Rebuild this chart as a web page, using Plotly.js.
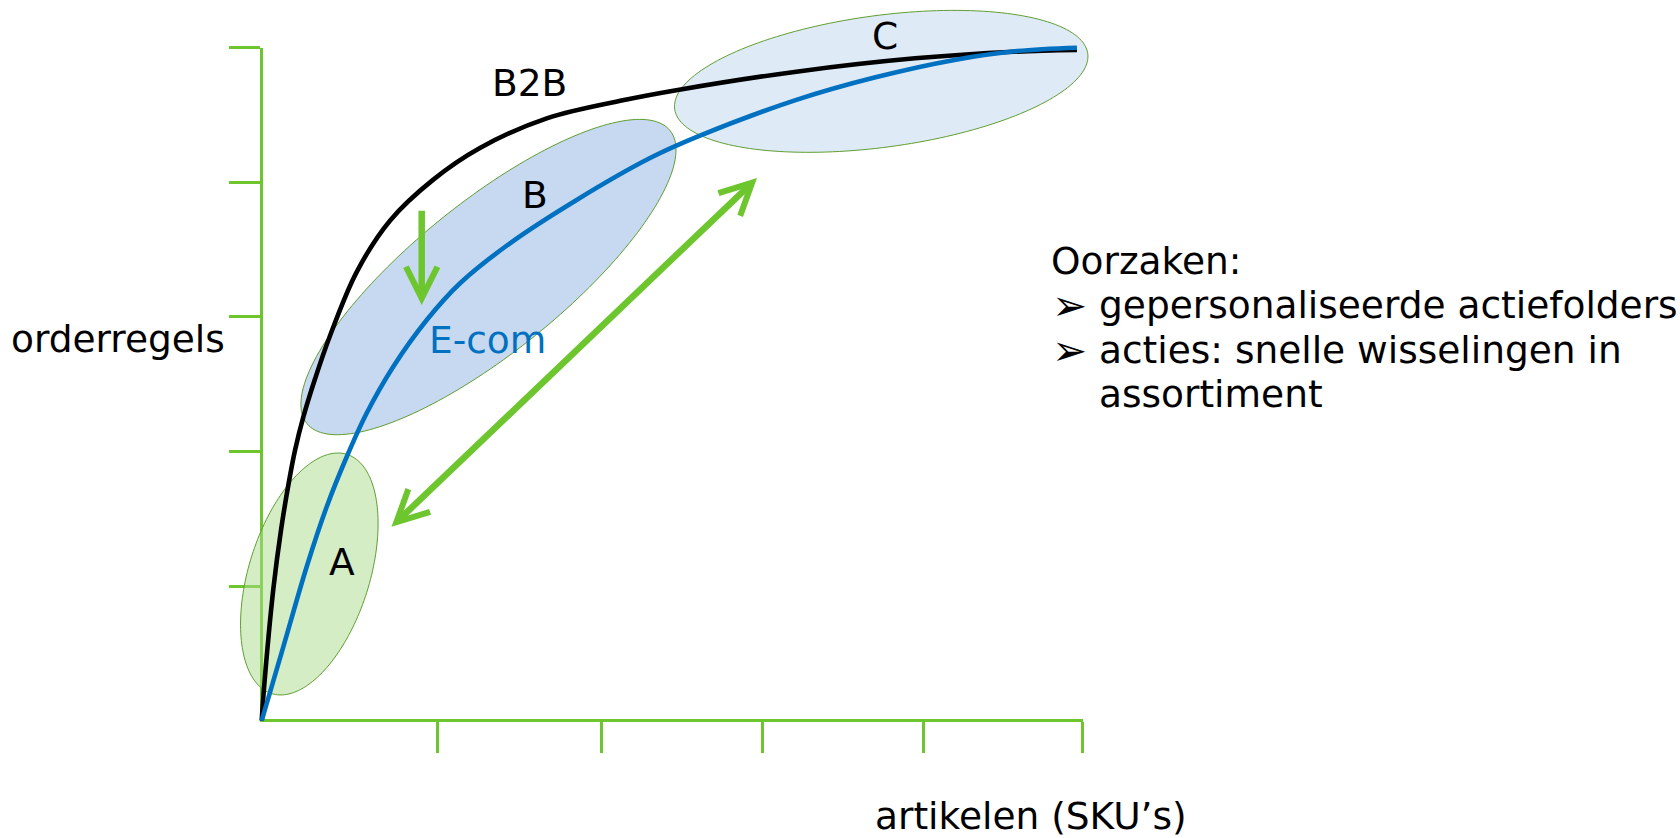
<!DOCTYPE html>
<html>
<head>
<meta charset="utf-8">
<script src="https://cdn.plot.ly/plotly-3.0.1.min.js"></script>
<style>
  html, body { margin: 0; padding: 0; background: #ffffff; }
  #chart { width: 1680px; height: 838px; }
</style>
</head>
<body>
<div id="chart"></div>
<script>
// ---------------- data (axis units 0..5) ----------------
const seriesNames = ['B2B', 'E-com'];
const b2bX  = [0, 0.014, 0.071, 0.118, 0.168, 0.203, 0.252, 0.325, 0.416, 0.579, 0.781, 1.045, 1.329, 1.736, 2.223, 2.534, 3.256, 3.979, 4.580, 4.965];
const b2bY  = [0, 0.240, 0.980, 1.420, 1.790, 2.010, 2.250, 2.540, 2.860, 3.335, 3.715, 4.020, 4.255, 4.475, 4.615, 4.686, 4.822, 4.921, 4.970, 4.983];
const ecomX = [0, 0.132, 0.274, 0.396, 0.518, 0.639, 0.801, 1.005, 1.208, 1.512, 1.918, 2.365, 2.654, 3.256, 3.738, 4.219, 4.600, 4.965];
const ecomY = [0, 0.550, 1.144, 1.590, 1.961, 2.284, 2.630, 2.977, 3.250, 3.547, 3.869, 4.180, 4.339, 4.612, 4.780, 4.909, 4.975, 5.000];
const xTickVals = [1.07, 2.07, 3.05, 4.03, 5];
const yTickVals = [1, 2, 3, 4, 5];
const regionLabels = ['A', 'B', 'C'];
const xAxisTitle = 'artikelen (SKU\u2019s)';
const yAxisTitle = 'orderregels';
const noteTitle = 'Oorzaken:';
const noteBullets = ['gepersonaliseerde actiefolders', 'acties: snelle wisselingen in'];
const noteContinuation = 'assortiment';

// ---------------- layout geometry ----------------
const W = 1680, H = 838;
const GREEN = 'rgb(110,198,46)';
const OUTLINE = 'rgb(96,158,50)';
const BLUE = '#0070C0';
const FONT = 'DejaVu Sans';
const FS = 37.5;
// pixel frame of the drawn axes (origin and the value 5 on each axis)
const FRAME = { x0: 261.7, x5: 1082.7, y0: 720.7, y5: 47.7, lw: 3 };
const pxPerX = (FRAME.x5 - FRAME.x0) / 5;
const pxPerY = (FRAME.y0 - FRAME.y5) / 5;
const toDataX = px => (px - FRAME.x0) / pxPerX;
const toDataY = py => (FRAME.y0 - py) / pxPerY;

// region ellipses: centre in axis units, semi-axes in px, tilt in degrees
const regionShapes = [
  { cx: 0.290, cy: 1.090, a: 125.4, b: 60.3, deg: 72.5, fill: 'rgba(169,219,139,0.5)' },
  { cx: 1.381, cy: 3.296, a: 233.3, b: 74.9, deg: 38.9, fill: 'rgba(141,179,225,0.5)' },
  { cx: 3.773, cy: 4.750, a: 208.4, b: 65.9, deg: 7.66, fill: 'rgba(191,213,239,0.5)' }
];
function ellipsePath(e) {
  const th = e.deg * Math.PI / 180;
  let s = '';
  const n = 180;
  for (let i = 0; i <= n; i++) {
    const t = 2 * Math.PI * i / n;
    const dx = e.a * Math.cos(t) * Math.cos(th) - e.b * Math.sin(t) * Math.sin(th);
    const dy = e.a * Math.cos(t) * Math.sin(th) + e.b * Math.sin(t) * Math.cos(th);
    s += (i ? 'L' : 'M') + (e.cx + dx / pxPerX).toFixed(5) + ',' + (e.cy + dy / pxPerY).toFixed(5);
  }
  return s + 'Z';
}

// ---------------- traces ----------------
const traces = [
  // keeps the visible axis frame alive
  { type: 'scatter', x: [], y: [], xaxis: 'x', yaxis: 'y', hoverinfo: 'skip', showlegend: false },
  { type: 'scatter', mode: 'lines', name: seriesNames[0], x: b2bX, y: b2bY, xaxis: 'x2', yaxis: 'y2',
    line: { color: '#000000', width: 4.6, shape: 'spline', smoothing: 1 }, hoverinfo: 'skip', showlegend: false },
  { type: 'scatter', mode: 'lines', name: seriesNames[1], x: ecomX, y: ecomY, xaxis: 'x2', yaxis: 'y2',
    line: { color: BLUE, width: 4.6, shape: 'spline', smoothing: 1 }, hoverinfo: 'skip', showlegend: false }
];

// ---------------- annotations ----------------
function pxText(text, px, py, xanchor, size, color) {
  return { text: text, xref: 'paper', yref: 'paper', x: px / W, y: 1 - py / H,
           xanchor: xanchor, yanchor: 'middle', showarrow: false,
           font: { family: FONT, size: size, color: color || '#000000' } };
}
function arrow(tip, tail, both) {
  return { xref: 'x2', yref: 'y2', axref: 'x2', ayref: 'y2',
           x: toDataX(tip[0]), y: toDataY(tip[1]), ax: toDataX(tail[0]), ay: toDataY(tail[1]),
           text: '', showarrow: true, arrowhead: 5, arrowsize: 0.95, arrowwidth: 6.5, arrowcolor: GREEN,
           arrowside: both ? 'end+start' : 'end', startarrowhead: 5, startarrowsize: 0.95 };
}

const annotations = [
  pxText(seriesNames[0], 529, 82.5, 'center', FS),
  pxText(seriesNames[1], 487.5, 339.5, 'center', FS, BLUE),
  pxText(regionLabels[0], 342, 562, 'center', FS),
  pxText(regionLabels[1], 535, 195, 'center', FS),
  pxText(regionLabels[2], 885, 36, 'center', FS),
  pxText(yAxisTitle, 118, 339, 'center', FS),
  pxText(xAxisTitle, 1031, 816, 'center', FS),
  pxText(noteTitle, 1049, 261, 'left', FS),
  pxText('\u27A2', 1050, 306, 'left', 42),
  pxText(noteBullets[0], 1097, 305, 'left', FS),
  pxText('\u27A2', 1050, 350, 'left', 42),
  pxText(noteBullets[1], 1097, 349.5, 'left', FS),
  pxText(noteContinuation, 1097, 393.5, 'left', FS),
  arrow([421.7, 305], [421.7, 209.3], false),
  arrow([757, 178], [390, 528.3], true)
];

// ---------------- layout ----------------
const plotLeft = FRAME.x0 + FRAME.lw / 2;
const plotBottom = FRAME.y0 - FRAME.lw / 2;
const axisCommon = {
  showline: true, linecolor: GREEN, linewidth: FRAME.lw,
  ticks: 'outside', ticklen: 31, tickwidth: 3, tickcolor: GREEN,
  tickmode: 'array', showticklabels: false, showgrid: false, zeroline: false, fixedrange: true
};
const layout = {
  width: W, height: H, autosize: false,
  margin: { l: 0, r: 0, t: 0, b: 0, pad: 0 },
  paper_bgcolor: '#ffffff', plot_bgcolor: 'rgba(0,0,0,0)',
  showlegend: false, hovermode: false,
  xaxis: Object.assign({}, axisCommon, {
    anchor: 'y', domain: [plotLeft / W, FRAME.x5 / W],
    range: [toDataX(plotLeft), 5], tickvals: xTickVals
  }),
  yaxis: Object.assign({}, axisCommon, {
    anchor: 'x', domain: [1 - plotBottom / H, 1 - FRAME.y5 / H],
    range: [toDataY(plotBottom), 5], tickvals: yTickVals
  }),
  xaxis2: { anchor: 'y2', domain: [0, 1], range: [toDataX(0), toDataX(W)], visible: false, fixedrange: true },
  yaxis2: { anchor: 'x2', domain: [0, 1], range: [toDataY(H), toDataY(0)], visible: false, fixedrange: true },
  shapes: regionShapes.map(e => ({
    type: 'path', xref: 'x2', yref: 'y2', layer: 'below', path: ellipsePath(e),
    fillcolor: e.fill, line: { color: OUTLINE, width: 1 }
  })),
  annotations: annotations
};

Plotly.newPlot('chart', traces, layout, { displayModeBar: false, staticPlot: true });
</script>
</body>
</html>
